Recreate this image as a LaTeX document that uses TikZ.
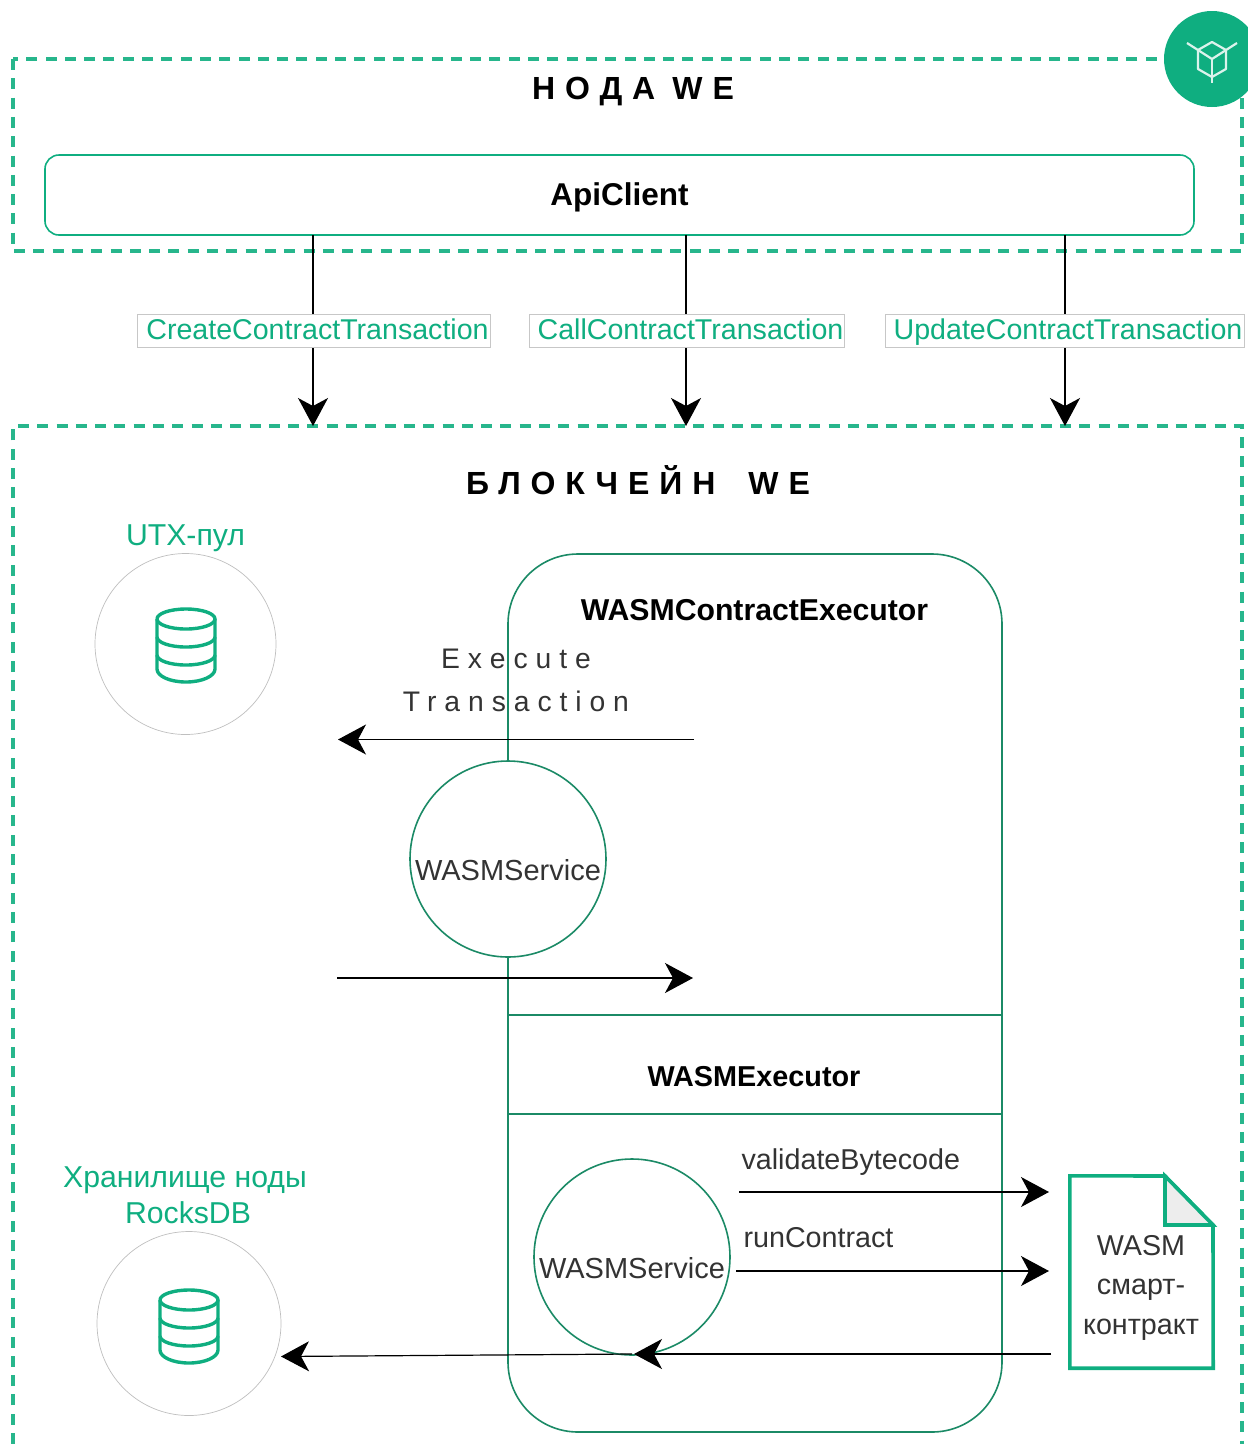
\documentclass[tikz,border=0pt]{standalone}
\usepackage{fontspec}
\setmainfont{Liberation Sans}
\newfontfamily\spaced[LetterSpace=28]{Liberation Sans}
\newfontfamily\spacedb[LetterSpace=31]{Liberation Sans Bold}
\usetikzlibrary{arrows.meta}
\definecolor{wegreen}{HTML}{0FAE80}
\definecolor{darktext}{HTML}{333333}
\definecolor{dkgreen}{HTML}{1B8A66}
\tikzset{
  frame/.style={draw=wegreen,line width=3.3pt,dash pattern=on 11pt off 8.3pt,opacity=.9},
  conn/.style={draw=black,line width=1.2pt,-{Stealth[length=28pt,width=30pt,inset=8pt]}},
  txlabel/.style={draw=black!22,line width=.7pt,fill=white,text=wegreen,font=\fontsize{28.6}{34}\selectfont,inner sep=0pt,minimum height=33pt,text height=22pt,text depth=5pt},
  greentext/.style={text=wegreen,font=\fontsize{30.2}{36}\selectfont,align=center},
  heading/.style={font=\fontsize{32}{38}\spacedb,text=black},
  body/.style={text=darktext,font=\fontsize{28.7}{37}\selectfont,align=center},
  service/.style={circle,draw=dkgreen,line width=1.6pt,fill=white,minimum size=196pt,inner sep=0pt,text=darktext,font=\fontsize{29}{35}\selectfont},
  dbcircle/.style={circle,draw=black!25,line width=.7pt,fill=white,inner sep=0pt},
  dbline/.style={draw=wegreen,line width=3.4pt,line join=round},
  panel/.style={draw=dkgreen,line width=1.6pt},
}
\newcommand{\dbicon}[2]{%
  \begin{scope}[shift={(#1,#2)}]
    \draw[dbline] (-29,-25) arc[start angle=180,end angle=-180,x radius=29,y radius=10];
    \draw[dbline] (-29,-25) -- (-29,25) arc[start angle=180,end angle=0,x radius=29,y radius=13] -- (29,-25);
    \draw[dbline] (-29,-7) arc[start angle=180,end angle=0,x radius=29,y radius=10];
    \draw[dbline] (-29,11) arc[start angle=180,end angle=0,x radius=29,y radius=10];
  \end{scope}}
\begin{document}
\begin{tikzpicture}[x=1pt,y=-1pt]
\useasboundingbox (0,0) rectangle (1248,1444);
\clip (0,0) rectangle (1248,1444);
% frames
\draw[frame] (13,59) rectangle (1242,251);
\draw[frame] (13,1444) -- (13,426) -- (1242,426) -- (1242,1444);
\node[heading] (nodetitle) at (633,92) {НОДА\hspace{17pt}WE};
\node[heading] (chaintitle) at (638,480) {БЛОКЧЕЙН\hspace{33pt}WE};
% badge
\node[circle,fill=wegreen,minimum size=96pt,inner sep=0pt] (badge) at (1212,59) {};
\begin{scope}[shift={(1212,59)},draw=white!85!wegreen,line width=2.2pt,line join=round]
  \draw (0,-17) -- (14,-9) -- (14,10) -- (0,18) -- (-14,10) -- (-14,-9) -- cycle;
  \draw (-25,-16) -- (0,0) -- (25,-16);
  \draw (0,0) -- (0,24);
\end{scope}
% api client
\node[draw=wegreen,line width=1.6pt,rounded corners=14pt,minimum width=1149pt,minimum height=80pt,inner sep=0pt,font=\fontsize{31.5}{36}\selectfont\bfseries] (api) at (619.5,195) {\smash{\raisebox{-10.5pt}{ApiClient}}};
\coordinate (a1) at (313,235); \coordinate (b1) at (313,426);
\coordinate (a2) at (686,235); \coordinate (b2) at (686,426);
\coordinate (a3) at (1065,235); \coordinate (b3) at (1065,426);
\draw[conn] (a1) -- (b1);
\draw[conn] (a2) -- (b2);
\draw[conn] (a3) -- (b3);
\node[txlabel,minimum width=353pt] (l1) at (313.5,331) {\hspace*{8pt}CreateContractTransaction};
\node[txlabel,minimum width=315pt] (l2) at (686.5,331) {\hspace*{8pt}CallContractTransaction};
\node[txlabel,minimum width=359pt] (l3) at (1065,331) {\hspace*{6pt}UpdateContractTransaction};
% executor panel
\draw[panel,rounded corners=70pt] (508,554) rectangle (1002,1432);
\coordinate (d1) at (508,1015); \coordinate (d2) at (1002,1015);
\coordinate (d3) at (508,1114); \coordinate (d4) at (1002,1114);
\draw[panel] (d1) -- (d2);
\draw[panel] (d3) -- (d4);
\node[font=\fontsize{30.2}{35}\selectfont\bfseries] (exec) at (754.5,610) {WASMContractExecutor};
\node[font=\fontsize{28.8}{34}\selectfont\bfseries] (wexec) at (754,1077) {WASMExecutor};
\node[font=\fontsize{28.3}{43}\spaced,text=darktext,align=center] (etx) at (516,680) {Execute\\Transaction};
% arrows on the left
\coordinate (e1) at (694,739.5); \coordinate (e2) at (338,739.5);
\draw[conn] (e1) -- (e2);
\node[service] (s1) at (508,859) {\smash{\raisebox{-21pt}{WASMService}}};
\coordinate (r1) at (337,978); \coordinate (r2) at (693,978);
\draw[conn] (r1) -- (r2);
\node[service] (s2) at (632,1257) {\smash{\raisebox{-21pt}{WASMService}}};
% db
\node[dbcircle,minimum size=181pt] (utx) at (185.5,644) {};
\dbicon{186}{644}
\node[dbcircle,minimum size=184pt] (rocks) at (189,1323.5) {};
\dbicon{189}{1325}
\node[greentext] (utxl) at (185.5,538) {UTX-пул};
\node[greentext] (rocksl) at (185,1195) {Хранилище ноды\\\hspace*{6pt}RocksDB};
% document
\node[inner sep=0pt,minimum width=143pt,minimum height=192pt] (doc) at (1141.5,1272) {};
\draw[draw=wegreen,line width=3.6pt,fill=white,line join=miter] (doc.north west) -- (1165,1176) -- (1213,1225) -- (doc.south east) -- (doc.south west) -- cycle;
\draw[draw=wegreen,line width=3.6pt,fill=black!7,line join=miter] (1165,1176) -- (1213,1225) -- (1165,1225) -- cycle;
\node[body,font=\fontsize{28.7}{39.5}\selectfont] (doct) at (1141,1287.5) {WASM\\смарт-\\контракт};
% method arrows
\coordinate (v1) at (739,1192); \coordinate (v2) at (1049,1192);
\coordinate (w1) at (736,1271); \coordinate (w2) at (1049,1271);
\draw[conn] (v1) -- (v2);
\draw[conn] (w1) -- (w2);
\node[body,anchor=west] (vl) at (738,1162) {validateBytecode};
\node[body,anchor=west] (rl) at (740,1238) {runContract};
\coordinate (x1) at (1051,1354); \coordinate (x2) at (634,1354);
\coordinate (y1) at (632,1354); \coordinate (y2) at (281,1356.5);
\draw[conn] (x1) -- (x2);
\draw[conn] (y1) -- (y2);
\end{tikzpicture}
\end{document}
